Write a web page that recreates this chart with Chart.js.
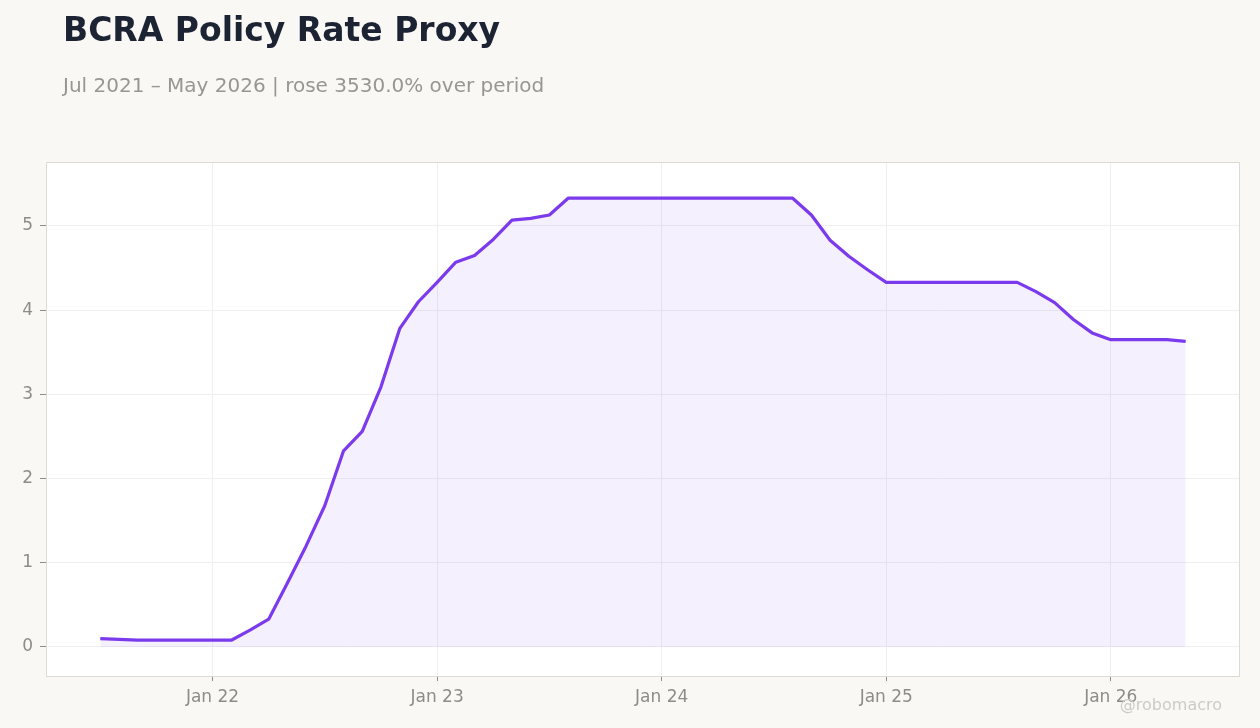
<!DOCTYPE html>
<html>
<head>
<meta charset="utf-8">
<script src="https://cdn.jsdelivr.net/npm/chart.js@4.4.1/dist/chart.umd.min.js"></script>
<style>
  html, body { margin: 0; padding: 0; background: #f9f8f5; }
  body { width: 1260px; height: 728px; position: relative; overflow: hidden;
         font-family: 'DejaVu Sans', sans-serif; }
  #chart { position: absolute; left: 0; top: 0; }
  .title { position: absolute; left: 63px; top: 13px; font-size: 33px; line-height: 1;
           font-weight: bold; color: #1c2333; white-space: nowrap; }
  .subtitle { position: absolute; left: 63px; top: 75px; font-size: 20px; line-height: 1;
              color: #999691; white-space: nowrap; }
  .credit { position: absolute; right: 38px; top: 697px; font-size: 16px; line-height: 1;
            color: #cdcbc7; white-space: nowrap; }
</style>
</head>
<body>
<canvas id="chart" width="1260" height="728"></canvas>
<div class="title">BCRA Policy Rate Proxy</div>
<div class="subtitle">Jul 2021 – May 2026 | rose 3530.0% over period</div>
<div class="credit">@robomacro</div>

<script>
/* ── Data (monthly) ── */
const MONTHS = [
  '2021-07', '2021-08', '2021-09', '2021-10', '2021-11', '2021-12',
  '2022-01', '2022-02', '2022-03', '2022-04', '2022-05', '2022-06',
  '2022-07', '2022-08', '2022-09', '2022-10', '2022-11', '2022-12',
  '2023-01', '2023-02', '2023-03', '2023-04', '2023-05', '2023-06',
  '2023-07', '2023-08', '2023-09', '2023-10', '2023-11', '2023-12',
  '2024-01', '2024-02', '2024-03', '2024-04', '2024-05', '2024-06',
  '2024-07', '2024-08', '2024-09', '2024-10', '2024-11', '2024-12',
  '2025-01', '2025-02', '2025-03', '2025-04', '2025-05', '2025-06',
  '2025-07', '2025-08', '2025-09', '2025-10', '2025-11', '2025-12',
  '2026-01', '2026-02', '2026-03', '2026-04', '2026-05',
];
const RATE = [
  0.10, 0.09, 0.08, 0.08, 0.08, 0.08,
  0.08, 0.08, 0.20, 0.33, 0.76, 1.20,
  1.68, 2.33, 2.56, 3.09, 3.78, 4.10,
  4.33, 4.57, 4.65, 4.84, 5.07, 5.09,
  5.13, 5.33, 5.33, 5.33, 5.33, 5.33,
  5.33, 5.33, 5.33, 5.33, 5.33, 5.33,
  5.33, 5.33, 5.13, 4.83, 4.64, 4.48,
  4.33, 4.33, 4.33, 4.33, 4.33, 4.33,
  4.33, 4.33, 4.22, 4.09, 3.89, 3.73,
  3.65, 3.65, 3.65, 3.65, 3.63,
];
const X_TICKS  = ['2022-01', '2023-01', '2024-01', '2025-01', '2026-01'];
const X_LABELS = ['Jan 22', 'Jan 23', 'Jan 24', 'Jan 25', 'Jan 26'];
const Y_TICKS  = [0, 1, 2, 3, 4, 5];

/* ── Constants ── */
const BG     = '#f9f8f5';
const FRAME  = '#dedad3';
const GRID   = '#efefef';
const TICK   = '#8f8c88';
const LINE   = '#7c3aed';
const FONT   = "'DejaVu Sans', sans-serif";

// months counted from Jan 2021 = 0
const monthIndex = s => {
  const [y, m] = s.split('-').map(Number);
  return (y - 2021) * 12 + (m - 1);
};

const points   = MONTHS.map((m, i) => ({ x: monthIndex(m), y: RATE[i] }));
const xTickPos = X_TICKS.map(monthIndex);

/* ── Plot panel: page bg, white area, frame ── */
const panelPlugin = {
  id: 'panel',
  beforeDraw(chart) {
    const { ctx, chartArea: a } = chart;
    ctx.save();
    ctx.fillStyle = BG;
    ctx.fillRect(0, 0, chart.width, chart.height);
    ctx.fillStyle = '#ffffff';
    ctx.fillRect(a.left, a.top, a.right - a.left, a.bottom - a.top);
    ctx.restore();
  },
  afterDraw(chart) {
    const { ctx, chartArea: a } = chart;
    ctx.save();
    ctx.strokeStyle = FRAME;
    ctx.lineWidth = 1;
    ctx.strokeRect(a.left + 0.5, a.top + 0.5, a.right - a.left, a.bottom - a.top);
    ctx.restore();
  },
};

new Chart(document.getElementById('chart'), {
  type: 'line',
  plugins: [panelPlugin],
  data: {
    datasets: [{
      data:            points,
      borderColor:     LINE,
      borderWidth:     3.2,
      backgroundColor: 'rgba(124,58,237,0.08)',
      fill:            'origin',
      pointRadius:     0,
      tension:         0,
      borderJoinStyle: 'round',
    }],
  },
  options: {
    responsive:       false,
    animation:        false,
    devicePixelRatio: 1,
    layout: { padding: { top: 162, right: 21, left: 0, bottom: 0 } },
    plugins: {
      legend:  { display: false },
      tooltip: { enabled: false },
    },
    scales: {
      x: {
        type: 'linear',
        min:  3.1,
        max:  66.85,
        afterFit: s => { s.height = 52; },
        afterBuildTicks: s => { s.ticks = xTickPos.map(v => ({ value: v })); },
        border: { display: false },
        grid: { color: GRID, tickColor: TICK, tickLength: 5, lineWidth: 1 },
        ticks: {
          color:   TICK,
          font:    { family: FONT, size: 17 },
          padding: 6,
          maxRotation: 0,
          callback: v => X_LABELS[xTickPos.indexOf(v)] ?? '',
        },
      },
      y: {
        type: 'linear',
        min:  -0.345,
        max:  5.76,
        afterFit: s => { s.width = 46; },
        afterBuildTicks: s => { s.ticks = Y_TICKS.map(v => ({ value: v })); },
        border: { display: false },
        grid: { color: GRID, tickColor: TICK, tickLength: 6, lineWidth: 1 },
        ticks: {
          color:   TICK,
          font:    { family: FONT, size: 17 },
          padding: 7,
        },
      },
    },
  },
});
</script>
</body>
</html>
